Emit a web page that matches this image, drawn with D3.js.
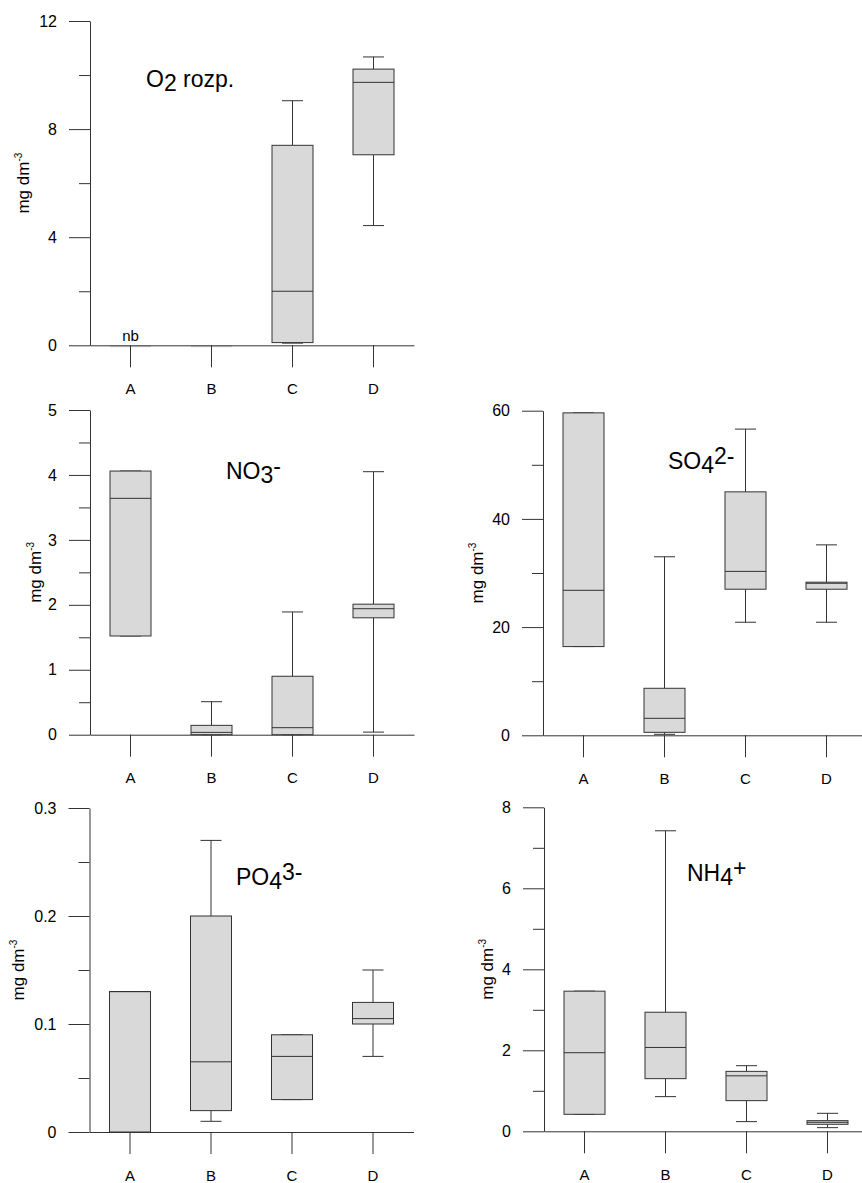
<!DOCTYPE html>
<html>
<head>
<meta charset="utf-8">
<script src="https://cdn.jsdelivr.net/npm/d3@7"></script>
<style>
  body { margin: 0; background: #fff; }
  svg { display: block; font-family: "Liberation Sans", Arial, sans-serif; }
  .axis path, .axis line { stroke: #333; stroke-width: 1; }
  .axis text { fill: #000; }
</style>
</head>
<body>
<script>
// categories (sampling sites)
const categories = ["A", "B", "C", "D"];

// box stats per site: [min, q1, median, q3, max]  (mg dm-3)
const o2Stats = [
  [0, 0, 0, 0, 0],
  [0, 0, 0, 0, 0],
  [0.08, 0.1, 2.0, 7.4, 9.05],
  [4.43, 7.05, 9.73, 10.22, 10.67]
];
const no3Stats = [
  [1.52, 1.52, 3.64, 4.06, 4.06],
  [0, 0, 0.036, 0.144, 0.508],
  [0, 0, 0.108, 0.9, 1.89],
  [0.04, 1.8, 1.94, 2.01, 4.05]
];
const so4Stats = [
  [16.4, 16.4, 26.8, 59.6, 59.6],
  [0.18, 0.55, 3.14, 8.69, 33.0],
  [20.9, 27.0, 30.3, 45.0, 56.6],
  [20.9, 27.0, 28.1, 28.3, 35.2]
];
const po4Stats = [
  [0, 0, 0.13, 0.13, 0.13],
  [0.0099, 0.0198, 0.065, 0.2, 0.27],
  [0.03, 0.03, 0.07, 0.09, 0.09],
  [0.07, 0.1, 0.105, 0.12, 0.15]
];
const nh4Stats = [
  [0.42, 0.42, 1.94, 3.46, 3.46],
  [0.856, 1.3, 2.07, 2.94, 7.42],
  [0.239, 0.757, 1.37, 1.48, 1.62],
  [0.09, 0.173, 0.222, 0.263, 0.444]
];

// y axis tick settings per panel
const o2Ticks = { max: 12, major: 4, minor: 2 };
const no3Ticks = { max: 5, major: 1, minor: 0.5 };
const so4Ticks = { max: 60, major: 20, minor: 10 };
const po4Ticks = { max: 0.3, major: 0.1, minor: 0.05 };
const nh4Ticks = { max: 8, major: 2, minor: 1 };

// title pieces: [text, shift]  shift 0 = normal, 1 = subscript, -1 = superscript
const o2Title = [["O", 0], ["2", 1], [" rozp.", 0]];
const no3Title = [["NO", 0], ["3", 1], ["-", -1]];
const so4Title = [["SO", 0], ["4", 1], ["2-", -1]];
const po4Title = [["PO", 0], ["4", 1], ["3-", -1]];
const nh4Title = [["NH", 0], ["4", 1], ["+", -1]];

const yLabel = "mg dm";
const yLabelSup = "-3";

const W = 862, H = 1183;
const svg = d3.select("body").append("svg")
    .attr("width", W)
    .attr("height", H);

// layout of the five panels
const panels = [
  { stats: o2Stats, ticks: o2Ticks, title: o2Title, left: 90, top: 21, bottom: 345.3, tx: 146, ty: 87, lx: 23, note: "nb" },
  { stats: no3Stats, ticks: no3Ticks, title: no3Title, left: 90, top: 410, bottom: 734.7, tx: 226, ty: 479, lx: 35 },
  { stats: so4Stats, ticks: so4Ticks, title: so4Title, left: 543, top: 410.7, bottom: 735.3, tx: 668, ty: 469, lx: 477 },
  { stats: po4Stats, ticks: po4Ticks, title: po4Title, left: 89.5, top: 808, bottom: 1132, tx: 236, ty: 885, lx: 18 },
  { stats: nh4Stats, ticks: nh4Ticks, title: nh4Title, left: 544, top: 807.3, bottom: 1131.3, tx: 687, ty: 881, lx: 487 }
];

panels.forEach(drawPanel);

function drawPanel(p) {
  const g = svg.append("g");
  const t = p.ticks;

  let y = d3.scaleLinear().domain([0, t.max]).range([p.bottom, p.top]);
  let x = d3.scaleBand().domain(categories).range([p.left, p.left + 324]).padding(0);

  const majors = d3.range(0, t.max + t.major / 2, t.major);
  const minors = d3.range(t.minor, t.max, t.major);

  // zero-height boxes (light line under the axis)
  const boxW = 41, capW = 21;
  g.selectAll(".zero")
    .data(p.stats.map((s, i) => ({ s, c: categories[i] })).filter(d => d.s[3] - d.s[1] === 0 && d.s[4] === 0))
    .enter().append("line")
      .attr("x1", d => x(d.c) + x.bandwidth() / 2 - boxW / 2)
      .attr("x2", d => x(d.c) + x.bandwidth() / 2 + boxW / 2)
      .attr("y1", d => y(d.s[1]) + 1)
      .attr("y2", d => y(d.s[1]) + 1)
      .attr("stroke", "#d9d9d9")
      .attr("stroke-width", 2);

  // x axis
  g.append("g")
      .attr("class", "axis")
      .attr("transform", `translate(0,${p.bottom})`)
      .call(d3.axisBottom(x).tickSize(22).tickSizeOuter(0).tickPadding(16))
      .call(a => a.selectAll("text").attr("font-size", 15).attr("font-family", null));

  // y axis major
  g.append("g")
      .attr("class", "axis")
      .attr("transform", `translate(${p.left},0)`)
      .call(d3.axisLeft(y).tickValues(majors).tickSize(21).tickSizeOuter(0).tickPadding(12)
        .tickFormat(d => String(+d.toFixed(3))))
      .call(a => a.selectAll("text").attr("font-size", 16).attr("font-family", null));

  // y axis minor
  g.append("g")
      .attr("class", "axis")
      .attr("transform", `translate(${p.left},0)`)
      .call(d3.axisLeft(y).tickValues(minors).tickSize(11).tickSizeOuter(0).tickFormat(""))
      .call(a => a.select(".domain").remove());

  // y label
  const lab = g.append("text")
      .attr("transform", `translate(${p.lx},${(p.top + p.bottom) / 2}) rotate(-90)`)
      .attr("text-anchor", "middle")
      .attr("dy", "0.35em")
      .attr("font-size", 17)
      .text(yLabel);
  lab.append("tspan").attr("font-size", 10).attr("dy", -7).text(yLabelSup);

  // boxes
  const boxes = g.selectAll(".box")
    .data(p.stats.map((s, i) => ({ s, c: categories[i] })).filter(d => d.s[4] > 0))
    .enter().append("g")
      .attr("transform", d => `translate(${x(d.c) + x.bandwidth() / 2},0)`);

  // whiskers
  boxes.append("line")
      .attr("y1", d => y(d.s[3])).attr("y2", d => y(d.s[4]))
      .attr("stroke", "#333");
  boxes.append("line")
      .attr("y1", d => y(d.s[1])).attr("y2", d => y(d.s[0]))
      .attr("stroke", "#333");
  boxes.append("line")
      .attr("x1", -capW / 2).attr("x2", capW / 2)
      .attr("y1", d => y(d.s[4])).attr("y2", d => y(d.s[4]))
      .attr("stroke", "#333");
  boxes.append("line")
      .attr("x1", -capW / 2).attr("x2", capW / 2)
      .attr("y1", d => y(d.s[0])).attr("y2", d => y(d.s[0]))
      .attr("stroke", "#333");

  boxes.append("rect")
      .attr("x", -boxW / 2)
      .attr("width", boxW)
      .attr("y", d => y(d.s[3]))
      .attr("height", d => y(d.s[1]) - y(d.s[3]))
      .attr("fill", "#d9d9d9")
      .attr("stroke", "#333");
  boxes.append("line")
      .attr("x1", -boxW / 2).attr("x2", boxW / 2)
      .attr("y1", d => y(d.s[2])).attr("y2", d => y(d.s[2]))
      .attr("stroke", "#333");

  // title
  const title = g.append("text")
      .attr("x", p.tx)
      .attr("y", p.ty)
      .attr("font-size", 23);
  let cur = 0;
  p.title.forEach(([txt, shift]) => {
    const target = shift === 1 ? 4 : shift === -1 ? -5 : 0;
    title.append("tspan").attr("dy", target - cur).text(txt);
    cur = target;
  });

  if (p.note) {
    g.append("text")
      .attr("x", x("A") + x.bandwidth() / 2)
      .attr("y", p.bottom - 4)
      .attr("text-anchor", "middle")
      .attr("font-size", 15)
      .text(p.note);
  }
}
</script>
</body>
</html>
